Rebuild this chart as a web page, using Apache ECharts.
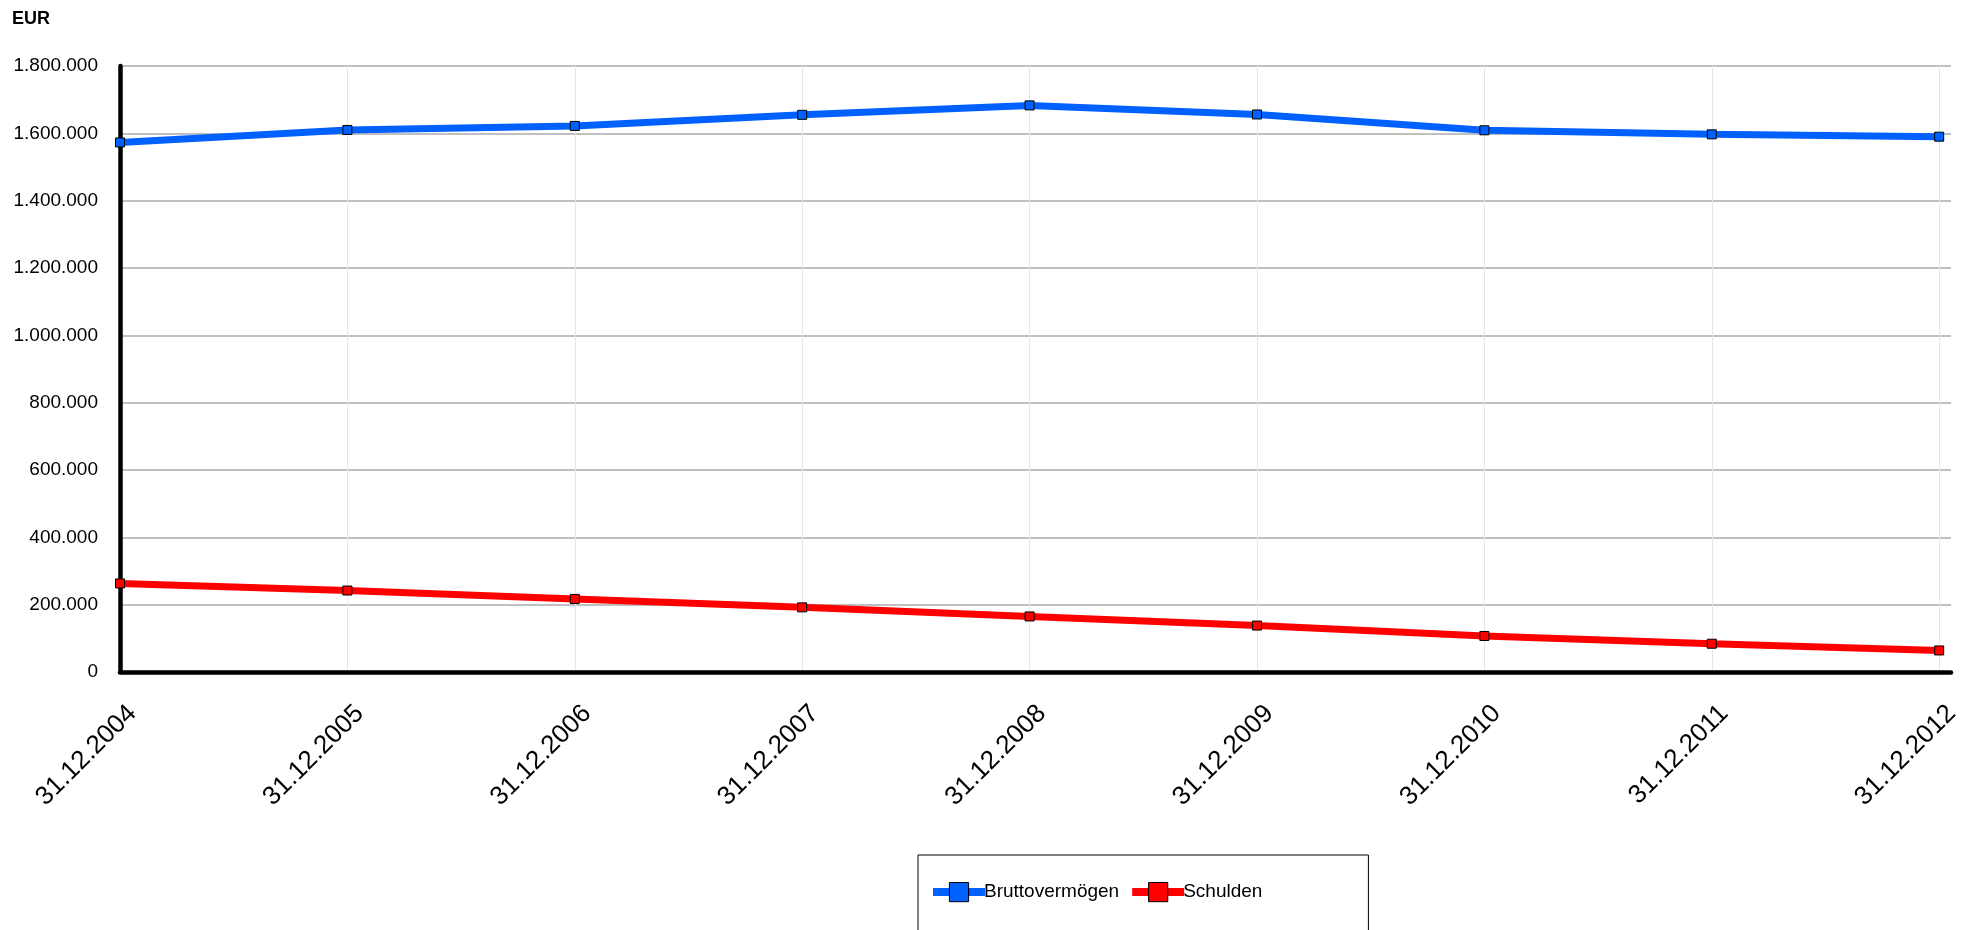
<!DOCTYPE html>
<html>
<head>
<meta charset="utf-8">
<script src="https://cdn.jsdelivr.net/npm/echarts@6/dist/echarts.min.js"></script>
<style>
html,body{margin:0;padding:0;background:#fff;}
#chart{width:1969px;height:930px;}
</style>
</head>
<body>
<div id="chart"></div>
<script>
const categories = ['31.12.2004','31.12.2005','31.12.2006','31.12.2007','31.12.2008','31.12.2009','31.12.2010','31.12.2011','31.12.2012'];
const bruttovermoegen = [1573000, 1610000, 1622000, 1655000, 1683000, 1656000, 1609000, 1597000, 1590000];
const schulden = [263000, 242000, 217000, 192000, 165000, 138000, 107000, 84000, 64000];
const seriesNames = ['Bruttovermögen', 'Schulden'];
const unitLabel = 'EUR';

const FONT = "'Liberation Sans', Arial, sans-serif";
const toPairs = arr => arr.map((v, i) => [i, v]);
const fmt = v => String(v).replace(/\B(?=(\d{3})+(?!\d))/g, '.');

const chart = echarts.init(document.getElementById('chart'), null, {renderer: 'canvas'});
chart.setOption({
  animation: false,
  backgroundColor: '#ffffff',
  textStyle: {fontFamily: FONT},
  title: {
    text: unitLabel,
    left: 12, top: 10, padding: 0,
    textStyle: {fontFamily: FONT, fontSize: 18, fontWeight: 'bold', color: '#000'}
  },
  grid: {left: 120, right: 18, top: 66, bottom: 258, containLabel: false},
  xAxis: {
    type: 'value',
    min: 0, max: 8.052, interval: 1,
    axisLine: {show: true, lineStyle: {color: '#000', width: 4.5}},
    axisTick: {show: false},
    splitLine: {show: true, showMaxLine: false, lineStyle: {color: '#e6e6e6', width: 1}},
    axisLabel: {
      formatter: v => (Number.isInteger(v) && categories[v] !== undefined) ? categories[v] : '',
      rotate: 45, align: 'right', verticalAlign: 'top', lineHeight: 35, margin: 25,
      fontSize: 26, color: '#000', fontFamily: FONT,
      showMinLabel: true, showMaxLabel: true
    }
  },
  yAxis: {
    type: 'value',
    min: 0, max: 1800000, interval: 200000,
    axisLine: {show: true, lineStyle: {color: '#000', width: 4.5}},
    axisTick: {show: false},
    splitLine: {show: true, lineStyle: {color: '#c0c0c0', width: 2}},
    axisLabel: {formatter: fmt, fontSize: 19, color: '#000', margin: 22, fontFamily: FONT}
  },
  legend: {
    left: 918, top: 855,
    padding: [27, 106, 60, 11],
    borderColor: '#000', borderWidth: 1,
    itemWidth: 52, itemHeight: 24, itemGap: 9,
    lineStyle: {width: 8},
    itemStyle: {borderColor: '#000', borderWidth: 1},
    textStyle: {fontSize: 19, color: '#000', fontFamily: FONT, padding: [0, 0, 0, -6]},
    data: seriesNames
  },
  series: [
    {
      name: seriesNames[0], type: 'line', data: toPairs(bruttovermoegen),
      symbol: 'rect', symbolSize: 9, showAllSymbol: true,
      lineStyle: {color: '#0061ff', width: 7},
      itemStyle: {color: '#0061ff', borderColor: '#000', borderWidth: 1},
      z: 3
    },
    {
      name: seriesNames[1], type: 'line', data: toPairs(schulden),
      symbol: 'rect', symbolSize: 9, showAllSymbol: true,
      lineStyle: {color: '#ff0000', width: 7},
      itemStyle: {color: '#ff0000', borderColor: '#000', borderWidth: 1},
      z: 3
    }
  ]
});
</script>
</body>
</html>
